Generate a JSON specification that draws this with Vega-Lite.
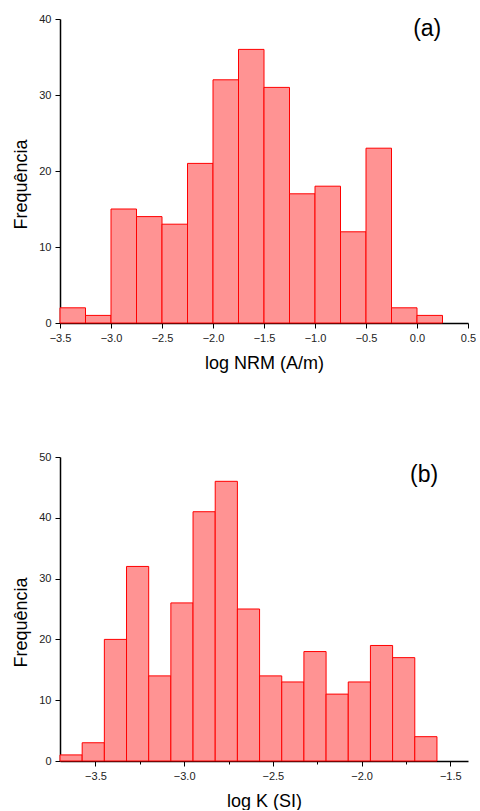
{
  "$schema": "https://vega.github.io/schema/vega-lite/v6.json",
  "padding": {"left": 12, "top": 13, "right": 0, "bottom": 0},
  "background": "white",
  "spacing": 79,
  "config": {
    "font": "Liberation Sans",
    "view": {"stroke": null},
    "axis": {
      "grid": false,
      "domainColor": "#000000",
      "domainWidth": 1.5,
      "tickColor": "#000000",
      "tickWidth": 1,
      "labelColor": "#222222",
      "labelFont": "Liberation Sans",
      "labelFontSize": 11,
      "titleFont": "Liberation Sans",
      "titleFontSize": 18,
      "titleFontWeight": "normal",
      "titleColor": "#000000"
    }
  },
  "vconcat": [
    {
      "width": 408,
      "height": 304,
      "layer": [
        {
          "data": {"values": [
            {"start": -3.5, "end": -3.25, "count": 2},
            {"start": -3.25, "end": -3.0, "count": 1},
            {"start": -3.0, "end": -2.75, "count": 15},
            {"start": -2.75, "end": -2.5, "count": 14},
            {"start": -2.5, "end": -2.25, "count": 13},
            {"start": -2.25, "end": -2.0, "count": 21},
            {"start": -2.0, "end": -1.75, "count": 32},
            {"start": -1.75, "end": -1.5, "count": 36},
            {"start": -1.5, "end": -1.25, "count": 31},
            {"start": -1.25, "end": -1.0, "count": 17},
            {"start": -1.0, "end": -0.75, "count": 18},
            {"start": -0.75, "end": -0.5, "count": 12},
            {"start": -0.5, "end": -0.25, "count": 23},
            {"start": -0.25, "end": 0.0, "count": 2},
            {"start": 0.0, "end": 0.25, "count": 1}
          ]},
          "mark": {"type": "rect", "fill": "#ff9393", "stroke": "#ff0000", "strokeWidth": 1},
          "encoding": {
            "x": {
              "field": "start", "type": "quantitative",
              "scale": {"domain": [-3.5, 0.5], "nice": false, "zero": false},
              "axis": {
                "title": "log NRM (A/m)",
                "values": [-3.5, -3.25, -3.0, -2.75, -2.5, -2.25, -2.0, -1.75, -1.5, -1.25, -1.0, -0.75, -0.5, -0.25, 0.0, 0.25, 0.5],
                "labelExpr": "abs(datum.value*2 - round(datum.value*2)) < 0.01 ? format(datum.value, '.1f') : ''",
                "tickSize": {"condition": {"test": "abs(datum.value*2 - round(datum.value*2)) < 0.01", "value": 5}, "value": 3},
                "labelPadding": 4,
                "labelFlush": false,
                "labelOverlap": false,
                "titlePadding": 11
              }
            },
            "x2": {"field": "end"},
            "y": {
              "field": "count", "type": "quantitative",
              "scale": {"domain": [0, 40], "nice": false},
              "axis": {
                "title": "Frequência",
                "values": [0, 5, 10, 15, 20, 25, 30, 35, 40],
                "labelExpr": "datum.value % 10 == 0 ? datum.value : ''",
                "tickSize": {"condition": {"test": "datum.value % 10 == 0", "value": 5}, "value": 3},
                "labelPadding": 4,
                "labelFlush": false,
                "labelOverlap": false,
                "titlePadding": 8,
                "titleY": 165
              }
            },
            "y2": {"datum": 0}
          }
        },
        {
          "data": {"values": [{"x": 0.1, "y": 38.7, "label": "(a)"}]},
          "mark": {"type": "text", "fontSize": 23, "font": "Liberation Sans", "color": "#000000"},
          "encoding": {
            "x": {"field": "x", "type": "quantitative"},
            "y": {"field": "y", "type": "quantitative"},
            "text": {"field": "label"}
          }
        }
      ]
    },
    {
      "width": 408,
      "height": 304,
      "layer": [
        {
          "data": {"values": [
            {"start": -3.7, "end": -3.575, "count": 1},
            {"start": -3.575, "end": -3.45, "count": 3},
            {"start": -3.45, "end": -3.325, "count": 20},
            {"start": -3.325, "end": -3.2, "count": 32},
            {"start": -3.2, "end": -3.075, "count": 14},
            {"start": -3.075, "end": -2.95, "count": 26},
            {"start": -2.95, "end": -2.825, "count": 41},
            {"start": -2.825, "end": -2.7, "count": 46},
            {"start": -2.7, "end": -2.575, "count": 25},
            {"start": -2.575, "end": -2.45, "count": 14},
            {"start": -2.45, "end": -2.325, "count": 13},
            {"start": -2.325, "end": -2.2, "count": 18},
            {"start": -2.2, "end": -2.075, "count": 11},
            {"start": -2.075, "end": -1.95, "count": 13},
            {"start": -1.95, "end": -1.825, "count": 19},
            {"start": -1.825, "end": -1.7, "count": 17},
            {"start": -1.7, "end": -1.575, "count": 4}
          ]},
          "mark": {"type": "rect", "fill": "#ff9393", "stroke": "#ff0000", "strokeWidth": 1},
          "encoding": {
            "x": {
              "field": "start", "type": "quantitative",
              "scale": {"domain": [-3.7, -1.4], "nice": false, "zero": false},
              "axis": {
                "title": "log K (SI)",
                "values": [-3.5, -3.25, -3.0, -2.75, -2.5, -2.25, -2.0, -1.75, -1.5],
                "labelExpr": "abs(datum.value*2 - round(datum.value*2)) < 0.01 ? format(datum.value, '.1f') : ''",
                "tickSize": {"condition": {"test": "abs(datum.value*2 - round(datum.value*2)) < 0.01", "value": 5}, "value": 3},
                "labelPadding": 4,
                "labelFlush": false,
                "labelOverlap": false,
                "titlePadding": 11
              }
            },
            "x2": {"field": "end"},
            "y": {
              "field": "count", "type": "quantitative",
              "scale": {"domain": [0, 50], "nice": false},
              "axis": {
                "title": "Frequência",
                "values": [0, 5, 10, 15, 20, 25, 30, 35, 40, 45, 50],
                "labelExpr": "datum.value % 10 == 0 ? datum.value : ''",
                "tickSize": {"condition": {"test": "datum.value % 10 == 0", "value": 5}, "value": 3},
                "labelPadding": 4,
                "labelFlush": false,
                "labelOverlap": false,
                "titlePadding": 8,
                "titleY": 165
              }
            },
            "y2": {"datum": 0}
          }
        },
        {
          "data": {"values": [{"x": -1.647, "y": 47.0, "label": "(b)"}]},
          "mark": {"type": "text", "fontSize": 23, "font": "Liberation Sans", "color": "#000000"},
          "encoding": {
            "x": {"field": "x", "type": "quantitative"},
            "y": {"field": "y", "type": "quantitative"},
            "text": {"field": "label"}
          }
        }
      ]
    }
  ]
}
